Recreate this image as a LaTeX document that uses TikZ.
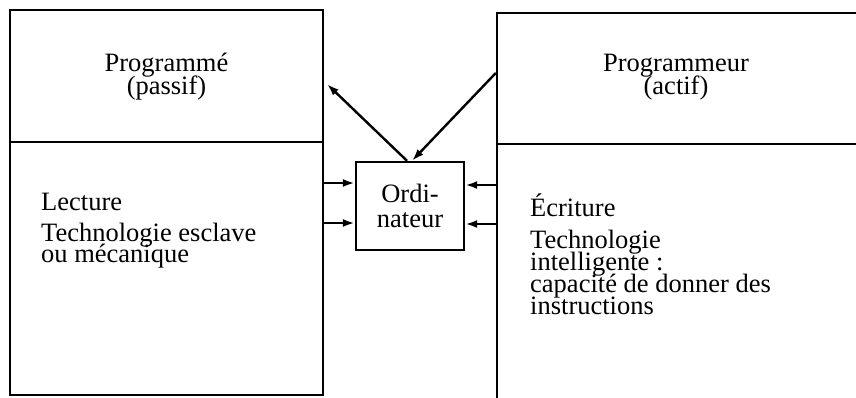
\documentclass[tikz,border=0pt]{standalone}
\usepackage{fontspec}
\setmainfont{Liberation Serif}
\usetikzlibrary{arrows.meta}
\begin{document}
\begin{tikzpicture}[x=1pt,y=-1pt,
  box/.style={draw,line width=2.4pt,inner sep=0pt,rectangle},
  txt/.style={font=\fontsize{26.5}{26.5}\selectfont,inner sep=0pt},
  arr/.style={line width=2.4pt,-{Latex[length=12pt,width=8pt]}}]
\useasboundingbox (0,0) rectangle (856,397);
% boxes
\node[box,minimum width=313pt,minimum height=132pt] (lt) at (166.5,76) {};
\node[box,minimum width=313pt,minimum height=253pt] (lb) at (166.5,268.5) {};
\node[box,minimum width=383pt,minimum height=131pt] (rt) at (688.5,78.5) {};
\node[box,minimum width=383pt,minimum height=276pt] (rb) at (688.5,282) {};
\node[box,minimum width=108pt,minimum height=88pt] (ord) at (410,206) {};
% texts
\node[txt,anchor=base] (p1) at (166.5,71) {Programmé};
\node[txt,anchor=base] (p2) at (166.5,94) {(passif)};
\node[txt,anchor=base] (q1) at (676,71) {Programmeur};
\node[txt,anchor=base] (q2) at (676,94) {(actif)};
\node[txt,anchor=base west] (l1) at (41,210) {Lecture};
\node[txt,anchor=base west] (l2) at (41,241) {Technologie esclave};
\node[txt,anchor=base west] (l3) at (41,262) {ou mécanique};
\node[txt,anchor=base west] (r1) at (530,216) {Écriture};
\node[txt,anchor=base west] (r2) at (530,248) {Technologie};
\node[txt,anchor=base west] (r3) at (530,270) {intelligente :};
\node[txt,anchor=base west] (r4) at (530,292) {capacité de donner des};
\node[txt,anchor=base west] (r5) at (530,314) {instructions};
\node[txt,anchor=base] (o1) at (410,202) {Ordi-};
\node[txt,anchor=base] (o2) at (410,227) {nateur};
% connectors
\coordinate (ya) at (0,183);
\coordinate (yb) at (0,223);
\coordinate (yc) at (0,185);
\coordinate (yd) at (0,224);
\coordinate (yR) at (0,73);
\coordinate (tipL) at (327,84);
\draw[arr] (lb.east |- ya) -- (ord.west |- ya);
\draw[arr] (lb.east |- yb) -- (ord.west |- yb);
\draw[arr] (rb.west |- yc) -- (ord.east |- yc);
\draw[arr] (rb.west |- yd) -- (ord.east |- yd);
\draw[arr] ([xshift=-3pt]ord.north) -- (tipL);
\draw[arr] (rt.west |- yR) -- ([xshift=2pt]ord.north);
\end{tikzpicture}
\end{document}
